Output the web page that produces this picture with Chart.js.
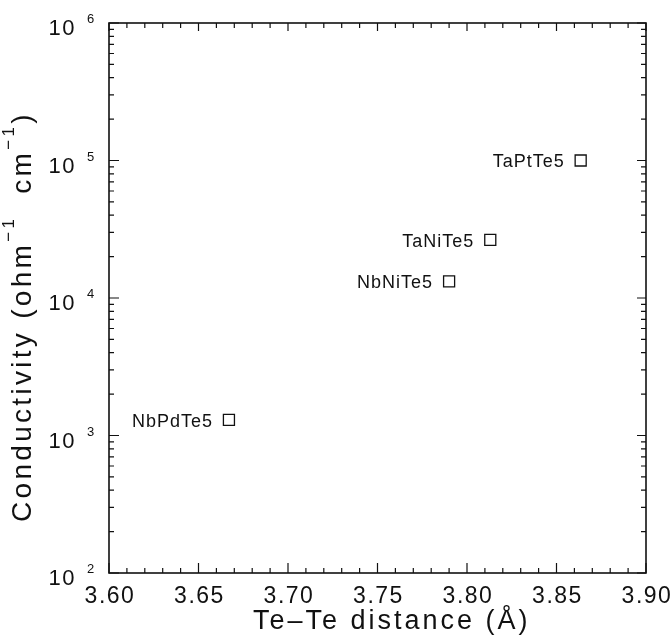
<!DOCTYPE html>
<html><head><meta charset="utf-8">
<script src="https://cdn.jsdelivr.net/npm/chart.js@4"></script>
<style>html,body{margin:0;padding:0;background:#fff}#wrap{width:672px;height:635px}</style>
</head><body><div id="wrap"><canvas id="c" width="672" height="635"></canvas></div>
<script>
const compounds = ['TaPtTe5', 'TaNiTe5', 'NbNiTe5', 'NbPdTe5'];
const teTeDistance = [3.8635, 3.813, 3.790, 3.667];
const conductivity = [1.0e5, 2.65e4, 1.32e4, 1.30e3];

const xMajorTicks = [3.60, 3.65, 3.70, 3.75, 3.80, 3.85, 3.90];
const xTickLabels = ['3.60', '3.65', '3.70', '3.75', '3.80', '3.85', '3.90'];
const xMinorTicks = [3.61, 3.62, 3.63, 3.64, 3.66, 3.67, 3.68, 3.69, 3.71, 3.72, 3.73, 3.74,
  3.76, 3.77, 3.78, 3.79, 3.81, 3.82, 3.83, 3.84, 3.86, 3.87, 3.88, 3.89];
const yDecades = [1e2, 1e3, 1e4, 1e5, 1e6];
const yExponents = ['2', '3', '4', '5', '6'];
const yMinorTicks = [200, 300, 400, 500, 600, 700, 800, 900,
  2000, 3000, 4000, 5000, 6000, 7000, 8000, 9000,
  20000, 30000, 40000, 50000, 60000, 70000, 80000, 90000,
  200000, 300000, 400000, 500000, 600000, 700000, 800000, 900000];

const FONT = '"Liberation Sans", Arial, sans-serif';
const INK = '#111';

const decorations = {
  id: 'decorations',
  afterDraw(chart) {
    const ctx = chart.ctx;
    const xs = chart.scales.x, ys = chart.scales.y;
    const a = chart.chartArea;
    ctx.save();
    ctx.strokeStyle = INK; ctx.fillStyle = INK;
    // frame
    ctx.lineWidth = 1.6;
    ctx.strokeRect(a.left, a.top, a.right - a.left, a.bottom - a.top);
    // ticks
    ctx.lineWidth = 1.2;
    ctx.beginPath();
    const xt = (v, lb, lt) => {
      const p = xs.getPixelForValue(v);
      ctx.moveTo(p, a.bottom); ctx.lineTo(p, a.bottom - lb);
      ctx.moveTo(p, a.top); ctx.lineTo(p, a.top + lt);
    };
    xMajorTicks.forEach(v => xt(v, 10, 8));
    xMinorTicks.forEach(v => xt(v, 5, 5));
    const yt = (v, ll, lr) => {
      const p = ys.getPixelForValue(v);
      ctx.moveTo(a.left, p); ctx.lineTo(a.left + ll, p);
      ctx.moveTo(a.right, p); ctx.lineTo(a.right - lr, p);
    };
    yDecades.forEach(v => yt(v, 10, 9));
    yMinorTicks.forEach(v => yt(v, 5, 5));
    ctx.stroke();

    // x tick labels
    ctx.font = '23px ' + FONT;
    ctx.letterSpacing = '1.5px';
    ctx.textAlign = 'center'; ctx.textBaseline = 'alphabetic';
    xMajorTicks.forEach((v, i) => {
      ctx.fillText(xTickLabels[i], xs.getPixelForValue(v) + 1, 603);
    });
    // y tick labels
    yDecades.forEach((v, i) => {
      const p = ys.getPixelForValue(v);
      ctx.font = '22px ' + FONT; ctx.letterSpacing = '1.5px';
      ctx.textAlign = 'right';
      ctx.fillText('10', 76, p + 12);
      ctx.font = '13px ' + FONT; ctx.letterSpacing = '0px';
      ctx.textAlign = 'left';
      ctx.fillText(yExponents[i], 87, p);
    });

    // point labels
    const meta = chart.getDatasetMeta(0);
    ctx.font = '18px ' + FONT; ctx.letterSpacing = '1px';
    ctx.textAlign = 'right'; ctx.textBaseline = 'middle';
    meta.data.forEach((pt, i) => {
      ctx.fillText(compounds[i], pt.x - 16, pt.y + 2);
    });

    // x title
    ctx.font = '27px ' + FONT; ctx.letterSpacing = '3px';
    ctx.textAlign = 'left'; ctx.textBaseline = 'alphabetic';
    ctx.fillText('Te\u2013Te distance (\u00C5)', 253, 629);

    // y title (rotated) with superscripts
    ctx.save();
    ctx.translate(31, 522);
    ctx.rotate(-Math.PI / 2);
    ctx.textAlign = 'left'; ctx.textBaseline = 'alphabetic';
    const main = '28px ' + FONT, sup = '17px ' + FONT;
    const parts = [
      ['Conductivity (ohm', main, 0],
      ['\u22121', sup, -17],
      ['  cm', main, 0],
      ['\u22121', sup, -17],
      [')', main, 0]
    ];
    let cx = 0;
    parts.forEach(([t, f, dy]) => {
      ctx.font = f; ctx.letterSpacing = '3.3px';
      ctx.fillText(t, cx, dy);
      cx += ctx.measureText(t).width;
    });
    ctx.restore();
    ctx.restore();
  }
};

new Chart(document.getElementById('c'), {
  type: 'scatter',
  data: {
    datasets: [{
      data: teTeDistance.map((x, i) => ({ x: x, y: conductivity[i] })),
      pointStyle: 'rect',
      pointRadius: 7.8,
      pointBorderWidth: 1.3,
      borderColor: INK,
      backgroundColor: '#fff',
      showLine: false
    }]
  },
  options: {
    responsive: false,
    animation: false,
    devicePixelRatio: 1,
    layout: { padding: { top: 23, right: 26, left: 0, bottom: 0 } },
    plugins: { legend: { display: false }, tooltip: { enabled: false } },
    scales: {
      x: {
        type: 'linear', min: 3.6, max: 3.9,
        ticks: { display: false }, grid: { display: false }, border: { display: false },
        afterFit(s) { s.height = 62; }
      },
      y: {
        type: 'logarithmic', min: 100, max: 1e6,
        ticks: { display: false }, grid: { display: false }, border: { display: false },
        afterFit(s) { s.width = 109; }
      }
    }
  },
  plugins: [decorations]
});
</script>
</body></html>
